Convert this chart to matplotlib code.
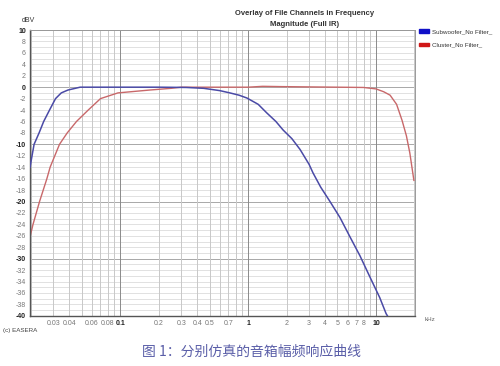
import matplotlib
matplotlib.use("Agg")
import matplotlib.pyplot as plt
from matplotlib.patches import Patch
import numpy as np

# frequency (kHz) / level (dBV)
sub_f = [0.0197, 0.0212, 0.0232, 0.0252, 0.028, 0.0312, 0.0346, 0.039, 0.0445, 0.0486,
         0.1, 0.2, 0.33, 0.45, 0.6, 0.72, 0.85, 0.98, 1.2, 1.4, 1.65, 1.88, 2.2, 2.55,
         3.0, 3.22, 3.7, 4.37, 5.23, 6.27, 7.5, 8.97, 10.7, 12.0, 12.3]
sub_db = [-14, -10, -8, -6, -4, -2, -1, -0.5, -0.2, 0,
          0, 0, -0.05, -0.2, -0.6, -1.0, -1.4, -1.9, -3.0, -4.5, -6.0, -7.5, -9.0, -10.9,
          -13.5, -15.0, -17.5, -20.0, -22.8, -26.2, -29.5, -33.2, -36.8, -39.6, -40]

clu_f = [0.0197, 0.0208, 0.0234, 0.0267, 0.0283, 0.0335, 0.0385, 0.0455, 0.0562, 0.0701,
         0.096, 0.17, 0.25, 0.3, 1.0, 1.3, 1.8, 5.0, 8.0, 10.0, 11.5, 12.9, 14.5, 16.0,
         17.3, 18.4, 19.8]
clu_db = [-26.2, -24, -20, -16, -14, -10, -8, -6, -4, -2,
          -1, -0.5, -0.2, 0, 0, 0.15, 0.1, 0, -0.05, -0.3, -0.8, -1.4, -3.0, -5.8,
          -8.5, -11.5, -16.3]

xtick_vals = [0.03, 0.04, 0.06, 0.08, 0.1, 0.2, 0.3, 0.4, 0.5, 0.7, 1, 2, 3, 4, 5, 6, 7, 8, 10]
xtick_lbls = ["0.03", "0.04", "0.06", "0.08", "0.1", "0.2", "0.3", "0.4", "0.5", "0.7",
              "1", "2", "3", "4", "5", "6", "7", "8", "10"]
ytick_vals = list(range(10, -41, -2))

BLUE = "#4a4aa6"; RED = "#c8686a"
plt.rcParams["font.family"] = ["Liberation Sans", "DejaVu Sans"]

fig = plt.figure(figsize=(5, 3.66), dpi=100, facecolor="white")
ax = fig.add_axes([0.06, 0.137, 0.77, 0.781])
ax.set_xscale("log")
ax.set_xlim(0.0197, 20.2)
ax.set_ylim(-40, 10)

# grid
for d in range(-40, 11):
    col = "#9a9a9a" if d % 10 == 0 else "#dcdcdc"
    ax.axhline(d, color=col, linewidth=0.6, zorder=0)
for dec in [0.01, 0.1, 1, 10]:
    for m in range(1, 10):
        v = dec * m
        if 0.0197 < v < 20.2:
            col = "#8a8a8a" if m == 1 else "#c8c8c8"
            ax.axvline(v, color=col, linewidth=0.7, zorder=0)

ax.plot(sub_f, sub_db, color=BLUE, linewidth=1.1, zorder=3, clip_on=True)
ax.plot(clu_f, clu_db, color=RED, linewidth=1.0, zorder=2, clip_on=True)

ax.set_xticks(xtick_vals)
ax.set_xticklabels(xtick_lbls)
ax.xaxis.set_minor_locator(matplotlib.ticker.NullLocator())
ax.set_yticks(ytick_vals)
ax.set_yticklabels([str(v) for v in ytick_vals])
ax.tick_params(length=0, labelsize=5, pad=3, colors="#777777")
for lbl, v in zip(ax.get_xticklabels(), xtick_vals):
    if v in (0.1, 1, 10):
        lbl.set_color("#222222"); lbl.set_fontweight("bold")
for lbl, v in zip(ax.get_yticklabels(), ytick_vals):
    if v % 10 == 0:
        lbl.set_color("#222222"); lbl.set_fontweight("bold")

for s in ["left", "bottom"]:
    ax.spines[s].set_color("#555555"); ax.spines[s].set_linewidth(1.0)
for s in ["top", "right"]:
    ax.spines[s].set_color("#999999"); ax.spines[s].set_linewidth(0.7)

fig.text(0.044, 0.935, "dBV", fontsize=5, color="#333333", ha="left", va="bottom")
fig.text(0.85, 0.128, "kHz", fontsize=4.5, color="#666666", ha="left", va="center")
fig.text(0.61, 0.962, "Overlay of File Channels in Frequency", fontsize=5.5,
         fontweight="bold", color="#333333", ha="center", va="center")
fig.text(0.61, 0.932, "Magnitude (Full IR)", fontsize=5.5,
         fontweight="bold", color="#333333", ha="center", va="center")
fig.text(0.006, 0.098, "(c) EASERA", fontsize=4.5, color="#444444", ha="left", va="center")

handles = [Patch(color="#1010c8", label="Subwoofer_No Filter_"),
           Patch(color="#d01818", label="Cluster_No Filter_")]
fig.legend(handles=handles, loc="upper left", bbox_to_anchor=(0.826, 0.935),
           frameon=False, fontsize=4.5, handlelength=1.6, handleheight=0.5,
           labelspacing=1.3, handletextpad=0.5, labelcolor="#333333")

fig.text(0.502, 0.038, "图 1：分别仿真的音箱幅频响应曲线", fontsize=10,
         color="#5a5ea8", ha="center", va="center",
         family=["Noto Sans CJK SC", "DejaVu Sans"])

fig.savefig("out.png", dpi=100, facecolor="white")
